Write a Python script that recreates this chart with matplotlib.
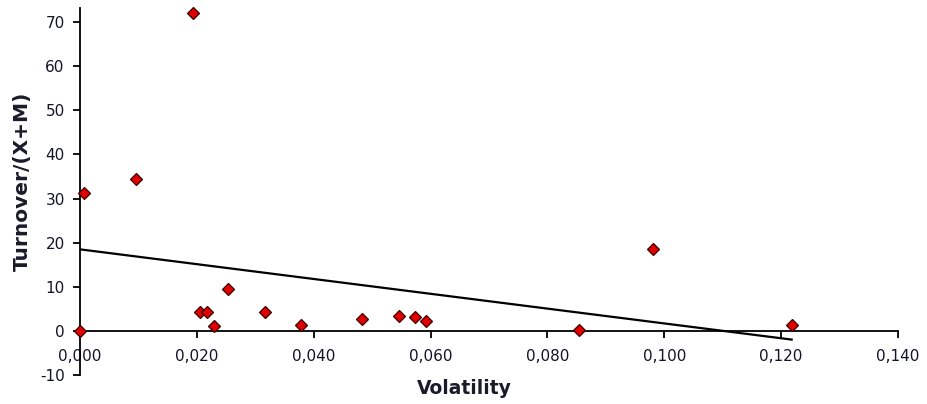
import numpy as np
import matplotlib
matplotlib.use("Agg")
import matplotlib.pyplot as plt
from matplotlib.ticker import FuncFormatter

volatility = [0.0, 0.0007, 0.0096, 0.0193, 0.0205, 0.0217, 0.0230, 0.0254, 0.0316,
              0.0378, 0.0482, 0.0546, 0.0574, 0.0592, 0.0854, 0.0980, 0.1218]
turnover = [0.0, 31.3, 34.5, 72.1, 4.3, 4.3, 1.0, 9.5, 4.3,
            1.4, 2.7, 3.4, 3.1, 2.3, 0.2, 18.6, 1.3]
x_ticks = [0.0, 0.02, 0.04, 0.06, 0.08, 0.10, 0.12, 0.14]
y_ticks = [-10, 0, 10, 20, 30, 40, 50, 60, 70]

plt.rcParams['font.family'] = ['DejaVu Sans']
plt.rcParams['axes.unicode_minus'] = False

fig = plt.figure(figsize=(9.27, 4.04), dpi=100)
W, H = 927, 404
ax = fig.add_axes([80 / W, (H - 375) / H, (898 - 80) / W, (375 - 8) / H])

# trend line (least squares)
slope, intercept = np.polyfit(volatility, turnover, 1)
xs = np.array([0.0, max(volatility)])
ax.plot(xs, intercept + slope * xs, color='black', lw=1.6, zorder=2)

ax.plot(volatility, turnover, linestyle='none', marker='D', markersize=6.3,
        markerfacecolor='#e00000', markeredgecolor='#3a0000', markeredgewidth=0.9,
        zorder=3, clip_on=False)

ax.set_xlim(0, 0.14)
ax.set_ylim(-10, 73.2)
ax.set_xticks(x_ticks)
ax.set_yticks(y_ticks)
ax.xaxis.set_major_formatter(FuncFormatter(lambda v, p: f"{v:.3f}".replace('.', ',')))

for s in ['top', 'right']:
    ax.spines[s].set_visible(False)
ax.spines['bottom'].set_position(('data', 0))
ax.spines['bottom'].set_linewidth(1.3)
ax.spines['left'].set_linewidth(1.3)

ax.tick_params(axis='x', direction='out', length=5, width=1.3, pad=8,
               labelsize=11, labelcolor='#141428')
ax.tick_params(axis='y', direction='out', length=5, width=1.3, pad=6,
               labelsize=11, labelcolor='#141428')

fig.text(464 / W, 1 - 388 / H, 'Volatility', ha='center', va='center',
         fontsize=13.5, fontweight='bold', color='#1a1a2a')
fig.text(22 / W, 1 - 181 / H, 'Turnover/(X+M)', ha='center', va='center',
         rotation=90, fontsize=14.5, fontweight='bold', color='#1a1a2a')

fig.savefig('out.png', dpi=100)
